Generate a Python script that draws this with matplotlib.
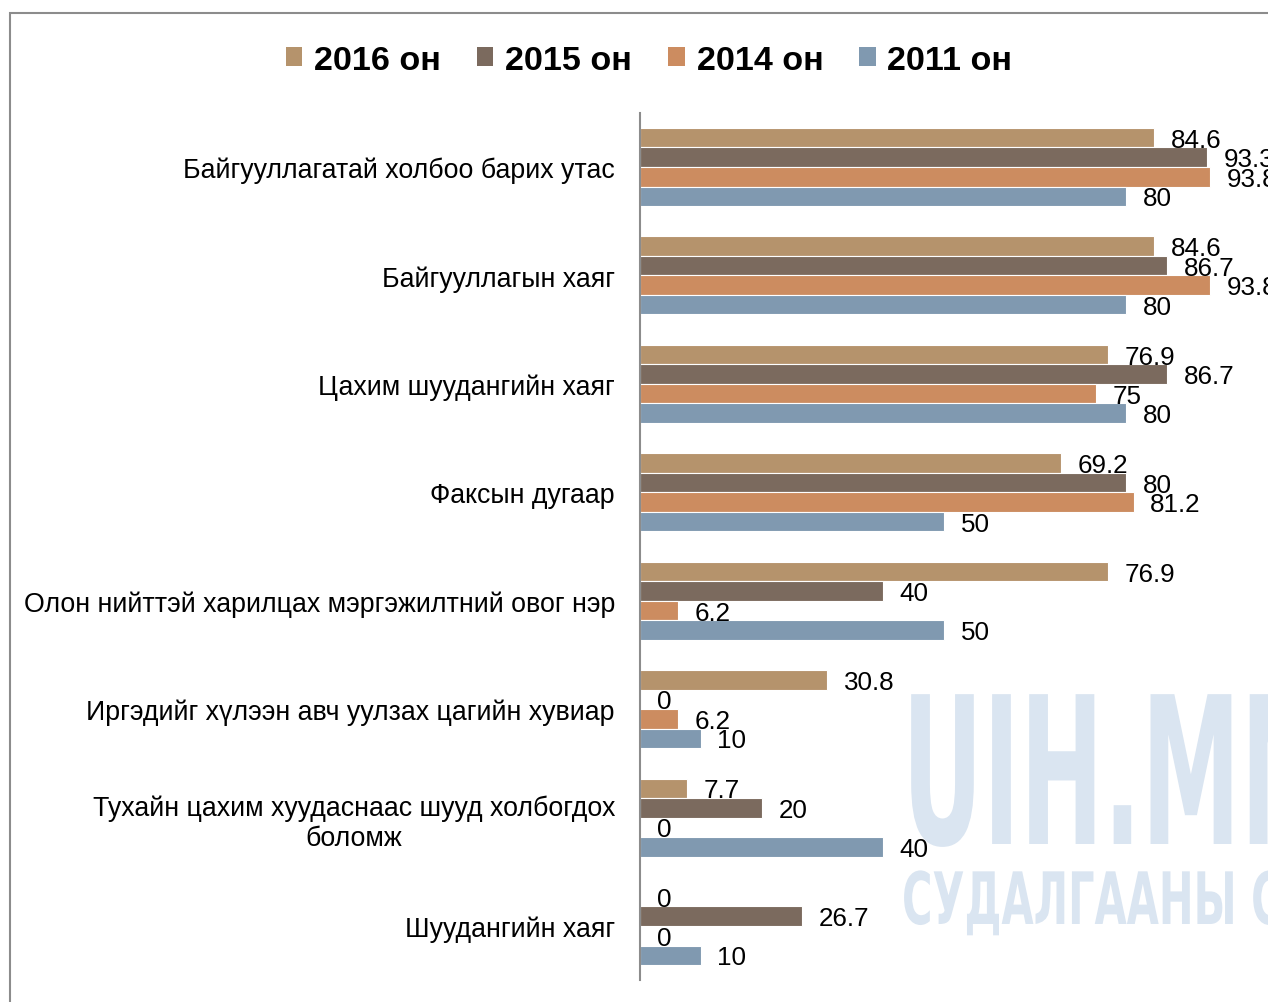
import numpy as np
import matplotlib
matplotlib.use('Agg')
import matplotlib.pyplot as plt
from matplotlib.patches import Rectangle, Patch
from matplotlib.patheffects import AbstractPathEffect
from matplotlib.transforms import Affine2D

plt.rcParams['font.family'] = ['Liberation Sans', 'DejaVu Sans']

categories = [
    'Байгууллагатай холбоо барих утас',
    'Байгууллагын хаяг',
    'Цахим шуудангийн хаяг',
    'Факсын дугаар',
    'Олон нийттэй харилцах мэргэжилтний овог нэр',
    'Иргэдийг хүлээн авч уулзах цагийн хувиар',
    'Тухайн цахим хуудаснаас шууд холбогдох\nболомж',
    'Шуудангийн хаяг',
]
series_names = ['2016 он', '2015 он', '2014 он', '2011 он']
v2016 = [84.6, 84.6, 76.9, 69.2, 76.9, 30.8, 7.7, 0]
v2015 = [93.3, 86.7, 86.7, 80, 40, 0, 20, 26.7]
v2014 = [93.8, 93.8, 75, 81.2, 6.2, 6.2, 0, 0]
v2011 = [80, 80, 80, 50, 50, 10, 40, 10]
colors = ['#B5936C', '#7B6A5E', '#CC8C60', '#8099B0']


class Squeeze(AbstractPathEffect):
    """squash text horizontally around x0 (display px) - fakes a condensed font"""
    def __init__(self, sx, x0):
        super().__init__()
        self.sx = sx
        self.x0 = x0

    def draw_path(self, renderer, gc, tpath, affine, rgbFace=None):
        t = affine + Affine2D().translate(-self.x0, 0).scale(self.sx, 1).translate(self.x0, 0)
        renderer.draw_path(gc, tpath, t, rgbFace)


fig = plt.figure(figsize=(12.68, 10.03), dpi=100)

# gray frame around the chart area
fig.patches.append(Rectangle((10 / 1268, -0.01), 1.0, 1 - 14 / 1003 + 0.01,
                             transform=fig.transFigure, fill=False,
                             edgecolor='#8C8C8C', linewidth=1.5))

# watermark
fig.text(902 / 1268, 1 - 845 / 1003, 'UIH.MN', fontsize=148, fontweight='heavy',
         color='#DAE5F1', zorder=-1, va='baseline', family='DejaVu Sans',
         path_effects=[Squeeze(0.485, 902)])
fig.text(902 / 1268, 1 - 925 / 1003, 'СУДАЛГААНЫ САН', fontsize=52, fontweight='bold',
         color='#DAE5F1', zorder=-1, va='baseline', family='DejaVu Sans',
         path_effects=[Squeeze(0.575, 902)])

ax = fig.add_axes([640 / 1268, 1 - 981.2 / 1003, 1 - 640 / 1268, (981.2 - 113.8) / 1003])
ax.patch.set_alpha(0)

y = np.arange(len(categories))
h = 0.18
all_vals = [v2016, v2015, v2014, v2011]
for j, (vals, c, name) in enumerate(zip(all_vals, colors, series_names)):
    pos = y + (j - 1.5) * h
    ax.barh(pos, vals, height=h, color=c, edgecolor='white', linewidth=0.8, label=name)
    for p, v in zip(pos, vals):
        ax.annotate(f'{v:g}', xy=(v, p), xytext=(12, -1.5), textcoords='offset points',
                    va='center', ha='left', fontsize=18.7, annotation_clip=False)

ax.set_xlim(0, 628 / 6.08)
ax.set_ylim(len(categories) - 0.5, -0.5)
ax.set_yticks(y)
ax.set_yticklabels(categories, fontsize=19.3, multialignment='center')
ax.tick_params(axis='y', length=0, pad=18)
ax.set_xticks([])
for s in ['top', 'right', 'bottom']:
    ax.spines[s].set_visible(False)
ax.spines['left'].set_color('#8C8C8C')
ax.spines['left'].set_linewidth(1.5)

handles = [Patch(facecolor=c, label=n) for c, n in zip(colors, series_names)]
fig.legend(handles=handles, loc='center', bbox_to_anchor=(0.512, 0.939), ncol=4,
           frameon=False, prop={'size': 24.6, 'weight': 'bold'},
           handlelength=0.48, handleheight=0.48, handletextpad=0.35, columnspacing=1.05)

fig.savefig('out.png', dpi=100)
